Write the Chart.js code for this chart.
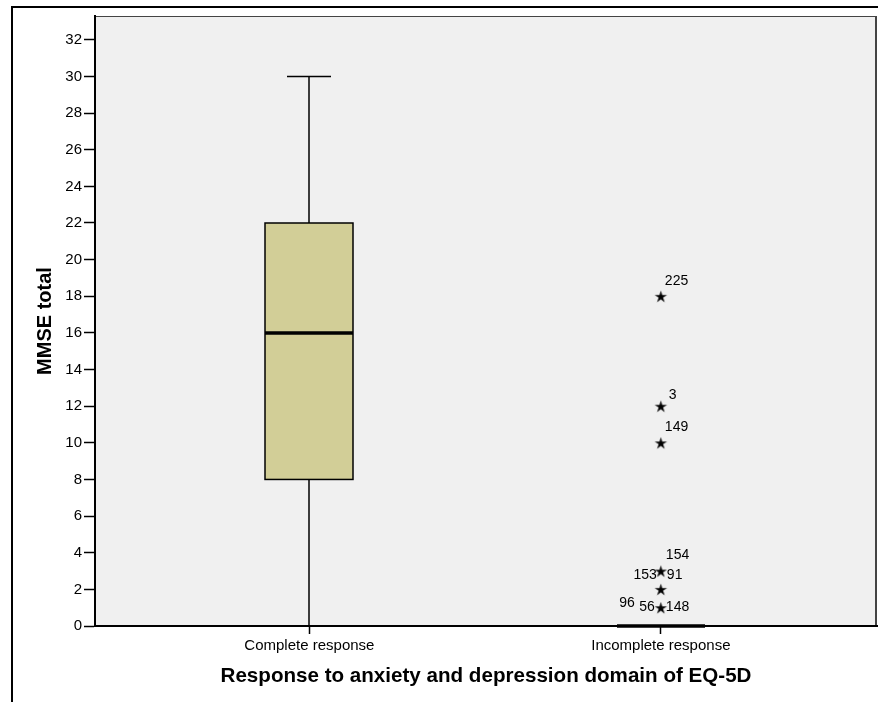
<!DOCTYPE html>
<html><head><meta charset="utf-8">
<script src="https://cdn.jsdelivr.net/npm/chart.js@4/dist/chart.umd.min.js"></script>
<style>html,body{margin:0;padding:0;background:#fff;} canvas{display:block;}</style>
</head><body>
<canvas id="c" width="878" height="702"></canvas>
<script>
// ---------- DATA ----------
const categories = ['Complete response', 'Incomplete response'];
const categoryPositions = [1, 2];
const whiskerLow = [0, 0];
const q1 = [8, 0];
const median = [16, 0];
const q3 = [22, 0];
const whiskerHigh = [30, 0];
const outlierCategory = [2, 2, 2, 2, 2, 2];
const outlierValues = [18, 12, 10, 3, 2, 1];
const outlierCaseIds = [['225'], ['3'], ['149'], ['154', '153', '91'], [], ['148', '56', '96']];
const yTicks = [0, 2, 4, 6, 8, 10, 12, 14, 16, 18, 20, 22, 24, 26, 28, 30, 32];
const yTitle = 'MMSE total';
const xTitle = 'Response to anxiety and depression domain of EQ-5D';

// ---------- STYLE ----------
const FONT = 'Liberation Sans, Arial, Helvetica, sans-serif';
const BOX_FILL = '#d2ce97';
const PLOT_BG = '#f0f0f0';
const BOX_HALF = 44;
const CAP_HALF = 22;
const labelPlacement = {
  '225': {dx: 4, dy: -15, align: 'left'},
  '3':   {dx: 8, dy: -11, align: 'left'},
  '149': {dx: 4, dy: -16, align: 'left'},
  '154': {dx: 5, dy: -16, align: 'left'},
  '153': {dx: -4, dy: 4, align: 'right'},
  '91':  {dx: 6, dy: 4, align: 'left'},
  '148': {dx: 5, dy: -1, align: 'left'},
  '56':  {dx: -6, dy: -1, align: 'right'},
  '96':  {dx: -26, dy: -5, align: 'right'}
};

function makeStar(r) {
  const s = document.createElement('canvas');
  const size = Math.ceil(r * 2 + 2);
  s.width = size; s.height = size;
  const c = s.getContext('2d');
  c.fillStyle = '#000';
  c.beginPath();
  for (let i = 0; i < 10; i++) {
    const rad = i % 2 ? r * 0.36 : r;
    const a = -Math.PI / 2 + i * Math.PI / 5;
    c.lineTo(size / 2 + rad * Math.cos(a), size / 2 + rad * Math.sin(a) + r * 0.1);
  }
  c.closePath();
  c.fill();
  return s;
}
const starImg = makeStar(6.5);

const framePlugin = {
  id: 'frame',
  beforeDraw(chart) {
    const {ctx, chartArea: a} = chart;
    ctx.save();
    ctx.fillStyle = '#fff';
    ctx.fillRect(0, 0, chart.width, chart.height);
    ctx.fillStyle = PLOT_BG;
    ctx.fillRect(a.left, a.top, a.right - a.left, a.bottom - a.top);
    ctx.strokeStyle = '#000';
    ctx.lineWidth = 2;
    ctx.beginPath();
    ctx.moveTo(12, chart.height); ctx.lineTo(12, 7); ctx.lineTo(chart.width, 7);
    ctx.stroke();
    ctx.strokeStyle = '#444';
    ctx.lineWidth = 1;
    ctx.beginPath();
    ctx.moveTo(a.left, a.top + 0.5); ctx.lineTo(a.right, a.top + 0.5);
    ctx.stroke();
    ctx.lineWidth = 2;
    ctx.beginPath();
    ctx.moveTo(a.right - 1, a.top); ctx.lineTo(a.right - 1, a.bottom);
    ctx.stroke();
    ctx.restore();
  }
};

const boxPlugin = {
  id: 'boxes',
  beforeDatasetsDraw(chart) {
    const {ctx, scales: {x, y}} = chart;
    ctx.save();
    for (let i = 0; i < categoryPositions.length; i++) {
      const cx = Math.round(x.getPixelForValue(categoryPositions[i]));
      const yLo = y.getPixelForValue(whiskerLow[i]);
      const yQ1 = y.getPixelForValue(q1[i]);
      const yMed = y.getPixelForValue(median[i]);
      const yQ3 = y.getPixelForValue(q3[i]);
      const yHi = y.getPixelForValue(whiskerHigh[i]);
      ctx.strokeStyle = '#000';
      ctx.lineWidth = 1.5;
      if (whiskerHigh[i] > q3[i]) {
        ctx.beginPath();
        ctx.moveTo(cx, yQ3); ctx.lineTo(cx, yHi);
        ctx.moveTo(cx - CAP_HALF, yHi); ctx.lineTo(cx + CAP_HALF, yHi);
        ctx.stroke();
      }
      if (q1[i] > whiskerLow[i]) {
        ctx.beginPath();
        ctx.moveTo(cx, yQ1); ctx.lineTo(cx, yLo);
        ctx.moveTo(cx - CAP_HALF, yLo); ctx.lineTo(cx + CAP_HALF, yLo);
        ctx.stroke();
      }
      if (q3[i] > q1[i]) {
        ctx.fillStyle = BOX_FILL;
        ctx.fillRect(cx - BOX_HALF, yQ3, BOX_HALF * 2, yQ1 - yQ3);
        ctx.strokeRect(cx - BOX_HALF, yQ3, BOX_HALF * 2, yQ1 - yQ3);
      }
      ctx.lineWidth = 3.5;
      ctx.beginPath();
      ctx.moveTo(cx - BOX_HALF, yMed); ctx.lineTo(cx + BOX_HALF, yMed);
      ctx.stroke();
    }
    ctx.restore();
  },
  afterDatasetsDraw(chart) {
    const {ctx, scales: {x, y}} = chart;
    ctx.save();
    ctx.fillStyle = '#000';
    ctx.font = '14px ' + FONT;
    ctx.textBaseline = 'middle';
    for (let i = 0; i < outlierValues.length; i++) {
      const px = x.getPixelForValue(outlierCategory[i]);
      const py = y.getPixelForValue(outlierValues[i]);
      for (const id of outlierCaseIds[i]) {
        const p = labelPlacement[id] || {dx: 5, dy: -12, align: 'left'};
        ctx.textAlign = p.align;
        ctx.fillText(id, px + p.dx, py + p.dy);
      }
    }
    ctx.restore();
  }
};

new Chart(document.getElementById('c'), {
  type: 'scatter',
  data: {
    datasets: [{
      label: 'Outliers',
      data: outlierValues.map((v, i) => ({x: outlierCategory[i], y: v})),
      pointStyle: starImg,
      radius: 6,
      hoverRadius: 6
    }]
  },
  options: {
    responsive: false,
    animation: false,
    devicePixelRatio: 1,
    layout: {autoPadding: false, padding: {left: 0, top: 16, right: 1, bottom: 0}},
    plugins: {legend: {display: false}, tooltip: {enabled: false}},
    events: [],
    scales: {
      x: {
        type: 'linear', position: 'bottom', min: 0.39, max: 2.615,
        afterBuildTicks: s => { s.ticks = categoryPositions.map(v => ({value: v})); },
        afterFit: s => { s.height = 76; s.paddingLeft = 0; s.paddingRight = 0; },
        ticks: {
          autoSkip: false, maxRotation: 0, color: '#000', padding: 3,
          font: {family: FONT, size: 15},
          callback: (v, i) => categories[i]
        },
        grid: {display: true, drawOnChartArea: false, drawTicks: true, tickLength: 8, tickColor: '#000', tickWidth: 1.5},
        border: {display: true, color: '#000', width: 2},
        title: {display: true, text: xTitle, color: '#000', font: {family: FONT, size: 20.6, weight: 'bold'}, padding: {top: 0, bottom: 13}}
      },
      y: {
        type: 'linear', position: 'left', min: 0, max: 33.3,
        afterBuildTicks: s => { s.ticks = yTicks.map(v => ({value: v})); },
        afterFit: s => { s.width = 95; s.paddingTop = 0; s.paddingBottom = 0; },
        ticks: {color: '#000', padding: 2, font: {family: FONT, size: 15}},
        grid: {display: true, drawOnChartArea: false, drawTicks: true, tickLength: 11, tickColor: '#000', tickWidth: 1.5},
        border: {display: true, color: '#000', width: 2},
        title: {display: true, text: yTitle, color: '#000', font: {family: FONT, size: 20, weight: 'bold'}, padding: {top: 33, bottom: 0}}
      }
    }
  },
  plugins: [framePlugin, boxPlugin]
});
</script>
</body></html>
